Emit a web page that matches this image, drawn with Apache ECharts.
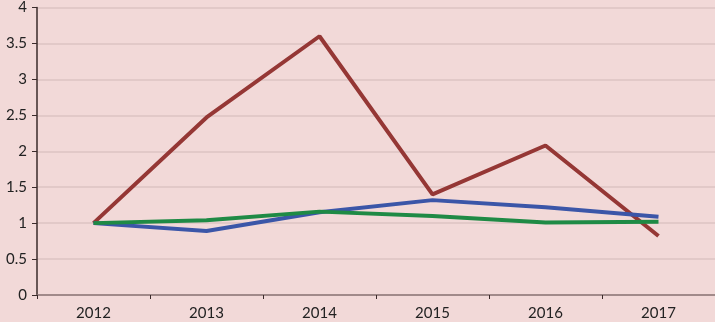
<!DOCTYPE html>
<html>
<head>
<meta charset="utf-8">
<script src="https://cdn.jsdelivr.net/npm/echarts@6/dist/echarts.min.js"></script>
<style>
  html, body { margin: 0; padding: 0; background: #f2d9d8; }
  #chart { width: 715px; height: 322px; }
</style>
</head>
<body>
<div id="chart"></div>
<script>
const years = ['2012', '2013', '2014', '2015', '2016', '2017'];
const redValues = [1.0, 2.47, 3.6, 1.4, 2.08, 0.82];
const blueValues = [1.0, 0.89, 1.15, 1.32, 1.22, 1.09];
const greenValues = [1.0, 1.04, 1.16, 1.10, 1.01, 1.02];

const chart = echarts.init(document.getElementById('chart'));

function lineSeries(name, data, color) {
  return {
    name: name,
    type: 'line',
    data: data,
    symbol: 'none',
    lineStyle: { color: color, width: 4 },
    itemStyle: { color: color }
  };
}

const option = {
  backgroundColor: '#f2d9d8',
  animation: false,
  textStyle: { fontFamily: 'Lato' },
  grid: { left: 37, right: 0, top: 5, bottom: 27 },
  xAxis: {
    type: 'category',
    data: years,
    boundaryGap: true,
    axisLine: { lineStyle: { color: '#8c7676', width: 1.5 } },
    axisTick: { show: true, length: 4, lineStyle: { color: '#3a2a2a' } },
    axisLabel: { color: '#222', fontSize: 15, margin: 11 }
  },
  yAxis: {
    type: 'value',
    min: 0,
    max: 4,
    interval: 0.5,
    axisLine: { show: true, lineStyle: { color: '#3a2a2a', width: 1.5 } },
    axisTick: { show: true, length: 5, lineStyle: { color: '#3a2a2a' } },
    axisLabel: { color: '#222', fontSize: 15, margin: 10 },
    splitLine: { lineStyle: { color: '#dcc3c3', width: 1.5 } }
  },
  series: [
    lineSeries('红', redValues, '#953735'),
    lineSeries('蓝', blueValues, '#3b56a8'),
    lineSeries('绿', greenValues, '#1f8a45')
  ]
};

chart.setOption(option);
</script>
</body>
</html>
